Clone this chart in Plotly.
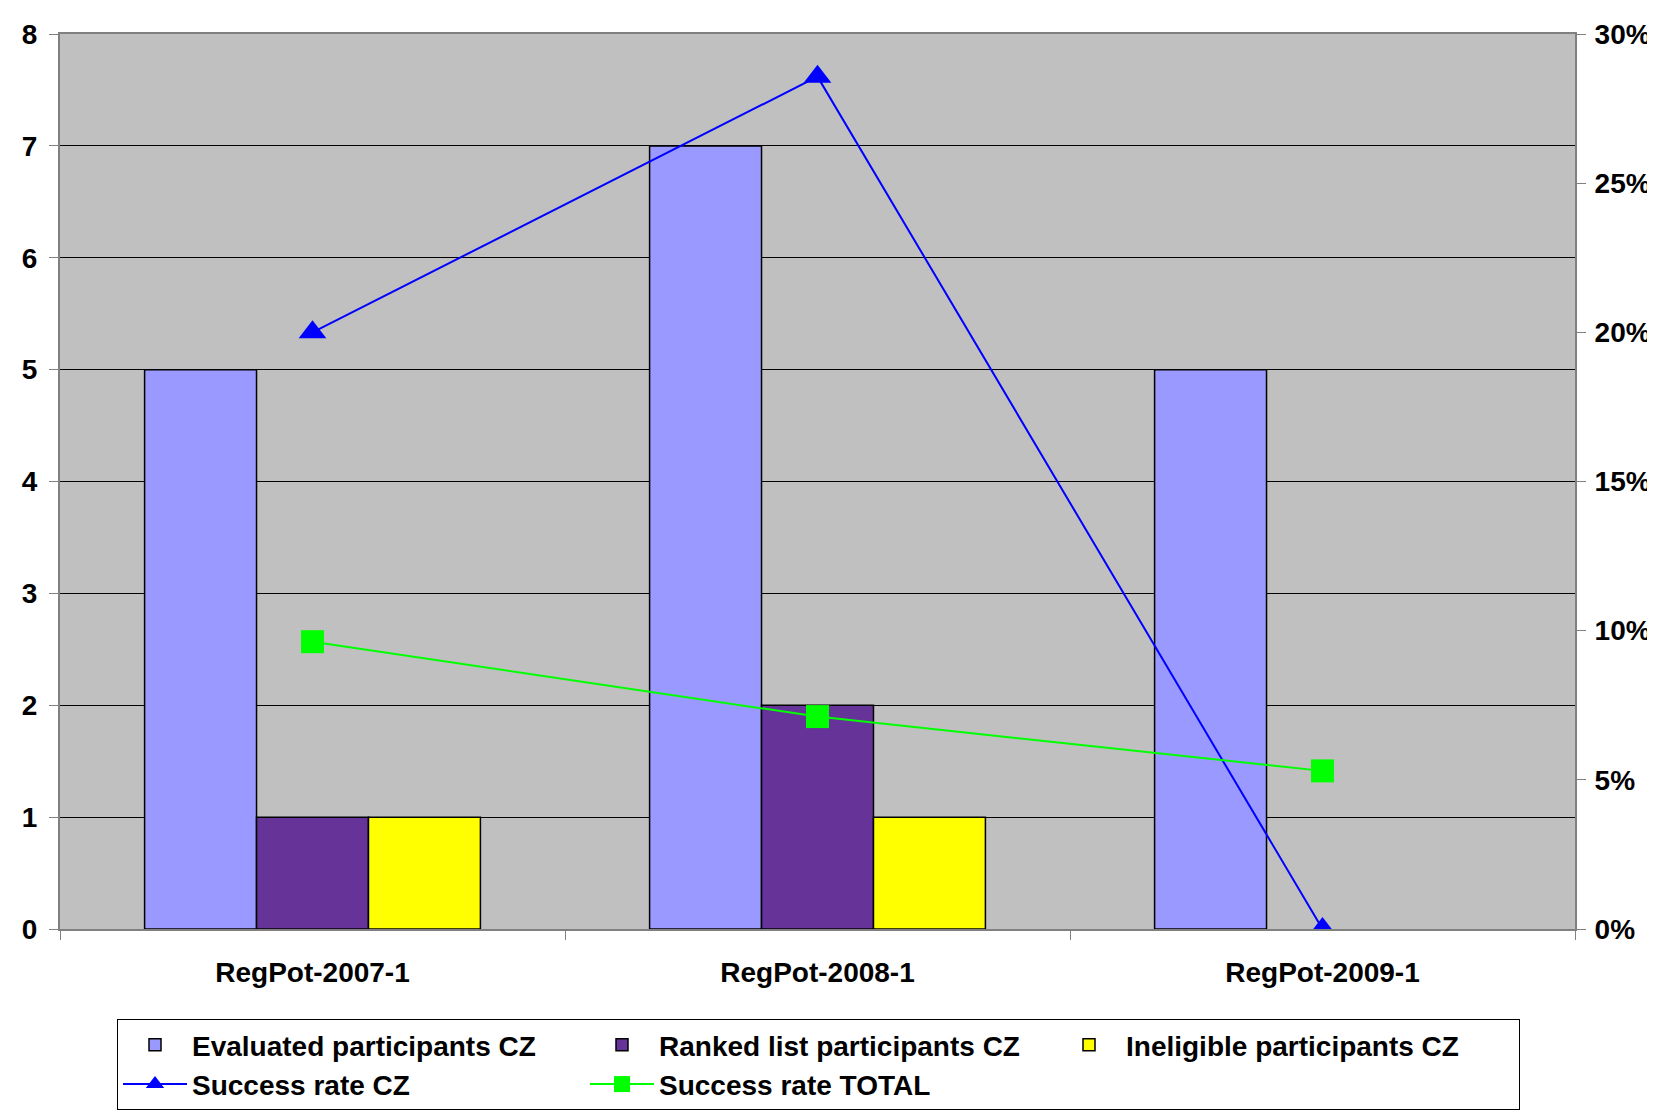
import plotly.graph_objects as go

categories = ["RegPot-2007-1", "RegPot-2008-1", "RegPot-2009-1"]
evaluated_cz = [5, 7, 5]
ranked_cz = [1, 2, 0]
ineligible_cz = [1, 1, 0]
success_rate_cz = [0.20, 0.2857, 0.0]
success_rate_total = [0.0963, 0.0712, 0.0530]

left_ticks = [0, 1, 2, 3, 4, 5, 6, 7, 8]
right_ticks = [0, 0.05, 0.10, 0.15, 0.20, 0.25, 0.30]


def hide_zero(vals):
    return [v if v else None for v in vals]


FONT = "Liberation Sans, Arial, sans-serif"
FS = 28
fig = go.Figure()

bar_line = dict(color="black", width=1.5)
fig.add_trace(go.Bar(x=categories, y=hide_zero(evaluated_cz), name="Evaluated participants CZ",
                     marker=dict(color="#9999FF", line=bar_line)))
fig.add_trace(go.Bar(x=categories, y=hide_zero(ranked_cz), name="Ranked list participants CZ",
                     marker=dict(color="#663399", line=bar_line)))
fig.add_trace(go.Bar(x=categories, y=hide_zero(ineligible_cz), name="Ineligible participants CZ",
                     marker=dict(color="#FFFF00", line=bar_line)))
fig.add_trace(go.Scatter(x=categories, y=success_rate_cz, name="Success rate CZ", yaxis="y2",
                         mode="lines+markers", line=dict(color="#0000FF", width=2),
                         marker=dict(symbol="triangle-up", size=24, color="#0000FF")))
fig.add_trace(go.Scatter(x=categories, y=success_rate_total, name="Success rate TOTAL", yaxis="y2",
                         mode="lines+markers", line=dict(color="#00FF00", width=2),
                         marker=dict(symbol="square", size=23, color="#00FF00")))

tickfont = dict(family=FONT, size=FS, weight="bold", color="black")
fig.update_layout(
    width=1655, height=1112,
    margin=dict(l=52, r=88, t=26, b=191, autoexpand=False),
    paper_bgcolor="white", plot_bgcolor="#C0C0C0",
    font=dict(family=FONT, size=FS, color="black"),
    barmode="group", bargap=0.335, bargroupgap=0,
    xaxis=dict(type="category", showline=True, linecolor="#808080", linewidth=2, mirror=True,
               ticks="outside", tickson="boundaries", ticklen=9, tickcolor="#808080",
               ticklabelstandoff=17, tickfont=tickfont, showgrid=False),
    yaxis=dict(range=[0, 8], tickvals=left_ticks, showgrid=True, gridcolor="black", gridwidth=1,
               showline=True, linecolor="#808080", linewidth=2, ticks="outside", ticklen=9,
               tickcolor="#808080", ticklabelstandoff=6, zeroline=False, tickfont=tickfont),
    yaxis2=dict(range=[0, 0.30], tickvals=right_ticks, tickformat=".0%", overlaying="y", side="right",
                showgrid=False, showline=True, linecolor="#808080", linewidth=2, ticks="outside",
                ticklen=9, tickcolor="#808080", ticklabelstandoff=3, zeroline=False,
                tickfont=tickfont),
    legend=dict(orientation="h", x=(109 - 52) / 1515, xanchor="left", y=-(1011 - 921) / 895,
                yanchor="top", bgcolor="white", bordercolor="black", borderwidth=1,
                itemwidth=64, entrywidth=388, entrywidthmode="pixels", traceorder="normal",
                font=dict(family=FONT, size=FS, weight="bold", color="black")),
)

fig.write_html("out.html")
